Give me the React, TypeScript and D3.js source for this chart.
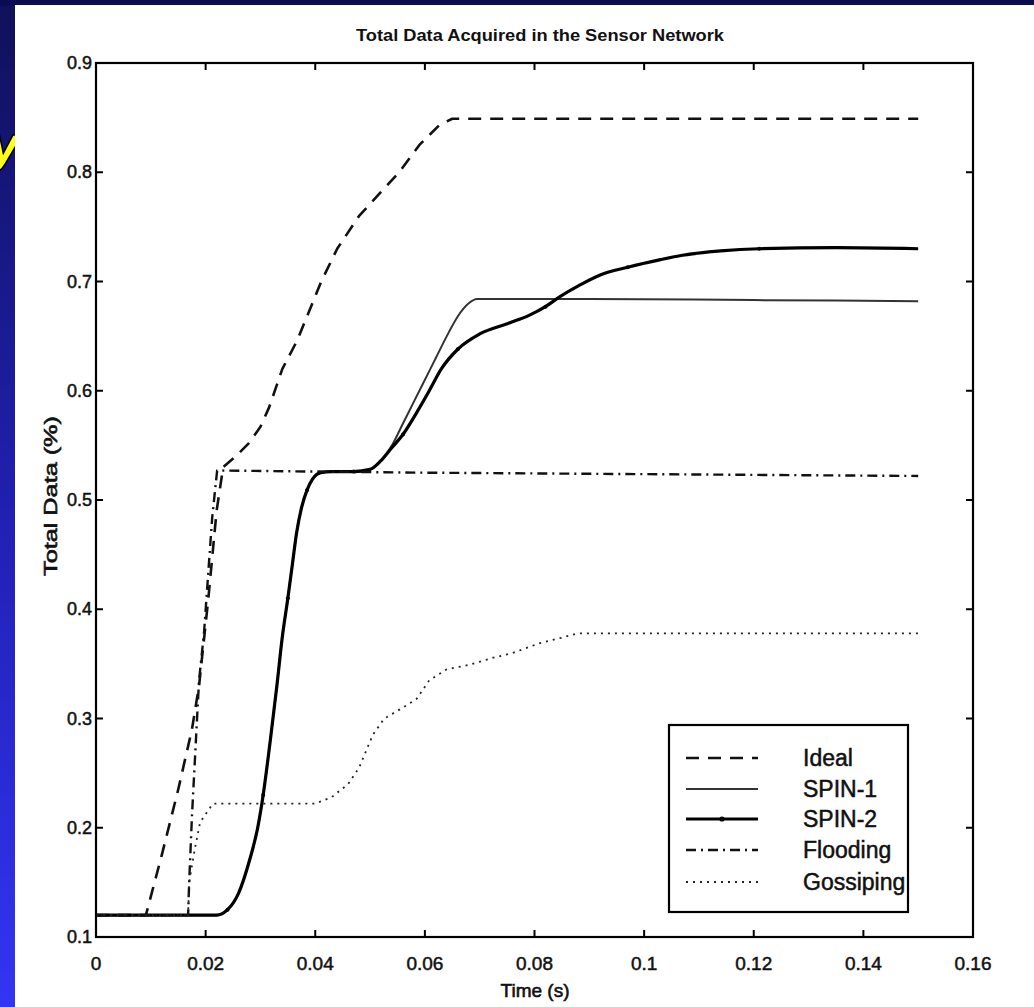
import React from "react";
import * as d3 from "d3";

type Pt = [number, number];

const xTicks = [0, 0.02, 0.04, 0.06, 0.08, 0.1, 0.12, 0.14, 0.16];
const xTickLabels = ["0", "0.02", "0.04", "0.06", "0.08", "0.1", "0.12", "0.14", "0.16"];
const yTicks = [0.1, 0.2, 0.3, 0.4, 0.5, 0.6, 0.7, 0.8, 0.9];
const yTickLabels = ["0.1", "0.2", "0.3", "0.4", "0.5", "0.6", "0.7", "0.8", "0.9"];

const ideal: Pt[] = [
  [0, 0.12], [0.0091, 0.12], [0.012, 0.175], [0.015, 0.235], [0.0175, 0.29], [0.0188, 0.33],
  [0.0205, 0.41], [0.022, 0.49], [0.0232, 0.53], [0.0255, 0.54], [0.0279, 0.552], [0.03, 0.567],
  [0.0316, 0.585], [0.034, 0.62], [0.0367, 0.646], [0.0411, 0.7], [0.044, 0.73], [0.048, 0.76],
  [0.052, 0.782], [0.0553, 0.8], [0.059, 0.825], [0.0626, 0.843], [0.065, 0.849], [0.15, 0.849],
];

const spin1: Pt[] = [
  [0, 0.12], [0.022, 0.12], [0.024, 0.125], [0.026, 0.14], [0.028, 0.17], [0.0295, 0.2],
  [0.0305, 0.23], [0.0318, 0.28], [0.033, 0.33], [0.034, 0.375], [0.035, 0.41], [0.0358, 0.44],
  [0.0366, 0.47], [0.0375, 0.493], [0.0385, 0.509], [0.0395, 0.519], [0.041, 0.525], [0.043, 0.526],
  [0.047, 0.526], [0.05, 0.528], [0.052, 0.536], [0.054, 0.55], [0.056, 0.57], [0.058, 0.59],
  [0.0608, 0.618], [0.062, 0.63], [0.064, 0.65], [0.066, 0.668], [0.068, 0.68], [0.0695, 0.684],
  [0.09, 0.684], [0.12, 0.683], [0.15, 0.682],
];

const spin2: Pt[] = [
  [0, 0.12], [0.022, 0.12], [0.024, 0.125], [0.026, 0.14], [0.028, 0.17], [0.0295, 0.2],
  [0.0305, 0.23], [0.0318, 0.28], [0.033, 0.33], [0.034, 0.375], [0.035, 0.41], [0.0358, 0.44],
  [0.0366, 0.47], [0.0375, 0.493], [0.0385, 0.509], [0.0395, 0.519], [0.041, 0.525], [0.043, 0.526],
  [0.047, 0.526], [0.05, 0.528], [0.052, 0.536], [0.054, 0.548], [0.056, 0.56], [0.0585, 0.58],
  [0.0608, 0.6], [0.063, 0.62], [0.066, 0.638], [0.07, 0.652], [0.0754, 0.662], [0.079, 0.669],
  [0.082, 0.677], [0.0846, 0.686], [0.088, 0.696], [0.092, 0.706], [0.097, 0.713], [0.103, 0.72],
  [0.107, 0.724], [0.114, 0.728], [0.121, 0.73], [0.135, 0.731], [0.15, 0.73],
];

const flooding: Pt[] = [
  [0, 0.12], [0.0168, 0.12], [0.017, 0.15], [0.0175, 0.21], [0.0188, 0.335], [0.0197, 0.378],
  [0.0212, 0.484], [0.0221, 0.527], [0.06, 0.525], [0.15, 0.522],
];

const gossiping: Pt[] = [
  [0, 0.12], [0.0168, 0.12], [0.017, 0.15], [0.018, 0.18], [0.019, 0.205], [0.0213, 0.222],
  [0.04, 0.222], [0.043, 0.228], [0.046, 0.24], [0.048, 0.255], [0.0505, 0.285], [0.0526, 0.3],
  [0.056, 0.31], [0.0585, 0.318], [0.0608, 0.335], [0.064, 0.345], [0.068, 0.349], [0.072, 0.355],
  [0.076, 0.36], [0.081, 0.369], [0.085, 0.374], [0.088, 0.378], [0.15, 0.378],
];

const seriesNames = ["Ideal", "SPIN-1", "SPIN-2", "Flooding", "Gossiping"];

const title = "Total Data Acquired in the Sensor Network";
const xLabel = "Time (s)";
const yLabel = "Total Data (%)";

export default function App() {
  const W = 1034, H = 1007;
  const L = 96, R = 973, T = 63, B = 937;
  const x = d3.scaleLinear().domain([0, 0.16]).range([L, R]);
  const y = d3.scaleLinear().domain([0.1, 0.9]).range([B, T]);
  const smooth = d3.line<Pt>().x(d => x(d[0])).y(d => y(d[1])).curve(d3.curveMonotoneX);
  const lin = d3.line<Pt>().x(d => x(d[0])).y(d => y(d[1]));

  const styles = [
    { data: ideal, gen: lin, w: 2.6, dash: "13 9", color: "#111" },
    { data: spin1, gen: smooth, w: 2.0, dash: undefined, color: "#333" },
    { data: spin2, gen: smooth, w: 3.2, dash: undefined, color: "#000" },
    { data: flooding, gen: lin, w: 2.4, dash: "10 5 2 5", color: "#111" },
    { data: gossiping, gen: lin, w: 1.8, dash: "2 5", color: "#222" },
  ];

  const font = "'Liberation Sans', Arial, Helvetica, sans-serif";
  const tickLen = 7;
  const legX = 669, legY = 725, legW = 239, legH = 187;
  const rowY = [758, 789, 819, 850, 882];

  return (
    <svg width={W} height={H} style={{ position: "absolute", left: 0, top: 0 }} fontFamily={font}>
      <defs>
        <linearGradient id="bgGrad" x1="0" y1="0" x2="0" y2="1">
          <stop offset="0" stopColor="#10105a" />
          <stop offset="0.5" stopColor="#2020b0" />
          <stop offset="1" stopColor="#3434f4" />
        </linearGradient>
        <clipPath id="plotClip">
          <rect x={L} y={T} width={R - L} height={B - T} />
        </clipPath>
      </defs>
      <rect x={0} y={0} width={W} height={H} fill="url(#bgGrad)" />
      <rect x={0} y={0} width={W} height={6} fill="#0c0c52" />
      <text x={-12} y={162} fontSize={50} fontStyle="italic" fontWeight="bold"
        fontFamily="'DejaVu Sans', sans-serif"
        fill="#ffff1a" stroke="#000" strokeWidth={1.5}>y</text>
      <rect x={15} y={5} width={W - 15} height={H - 5} fill="#fff" />

      {/* title */}
      <text x={540} y={41} textAnchor="middle" fontSize={17} fontWeight="bold" fill="#111"
        textLength={368} lengthAdjust="spacingAndGlyphs">{title}</text>

      {/* series */}
      <g clipPath="url(#plotClip)">
        {styles.map((s, i) => (
          <path key={i} d={s.gen(s.data) || ""} fill="none" stroke={s.color} strokeWidth={s.w}
            strokeDasharray={s.dash} strokeLinejoin="round" />
        ))}
        {spin2.filter((_, i) => i % 4 === 2).map((d, i) => (
          <circle key={i} cx={x(d[0])} cy={y(d[1])} r={2} fill="#000" />
        ))}
      </g>

      {/* axes box */}
      <rect x={L} y={T} width={R - L} height={B - T} fill="none" stroke="#000" strokeWidth={2.2} />
      {xTicks.map((t, i) => (
        <g key={"xt" + i}>
          <line x1={x(t)} x2={x(t)} y1={B} y2={B - tickLen} stroke="#000" strokeWidth={2} />
          <line x1={x(t)} x2={x(t)} y1={T} y2={T + tickLen} stroke="#000" strokeWidth={2} />
          <text x={x(t)} y={970} textAnchor="middle" fontSize={19} fill="#111" stroke="#111" strokeWidth={0.5}>
            {xTickLabels[i]}
          </text>
        </g>
      ))}
      {yTicks.map((t, i) => (
        <g key={"yt" + i}>
          <line x1={L} x2={L + tickLen} y1={y(t)} y2={y(t)} stroke="#000" strokeWidth={2} />
          <line x1={R} x2={R - tickLen} y1={y(t)} y2={y(t)} stroke="#000" strokeWidth={2} />
          <text x={L - 4} y={y(t) + 6} textAnchor="end" fontSize={18} fill="#111" stroke="#111" strokeWidth={0.5}>
            {yTickLabels[i]}
          </text>
        </g>
      ))}

      {/* axis labels */}
      <text x={535} y={997} textAnchor="middle" fontSize={19} fill="#111" stroke="#111" strokeWidth={0.6}>{xLabel}</text>
      <text transform={`translate(57,496) rotate(-90)`} textAnchor="middle" fontSize={18} fill="#111"
        stroke="#111" strokeWidth={0.6} textLength={160} lengthAdjust="spacingAndGlyphs">{yLabel}</text>

      {/* legend */}
      <rect x={legX} y={legY} width={legW} height={legH} fill="#fff" stroke="#000" strokeWidth={2.2} />
      {styles.map((s, i) => (
        <g key={"lg" + i}>
          <line x1={686} x2={758} y1={rowY[i]} y2={rowY[i]} stroke={s.color} strokeWidth={s.w}
            strokeDasharray={s.dash} />
          {i === 2 && <circle cx={722} cy={rowY[i]} r={2.6} fill="#000" />}
          <text x={803} y={rowY[i] + 8} fontSize={23} fill="#111" stroke="#111" strokeWidth={0.5}>
            {seriesNames[i]}
          </text>
        </g>
      ))}
    </svg>
  );
}
